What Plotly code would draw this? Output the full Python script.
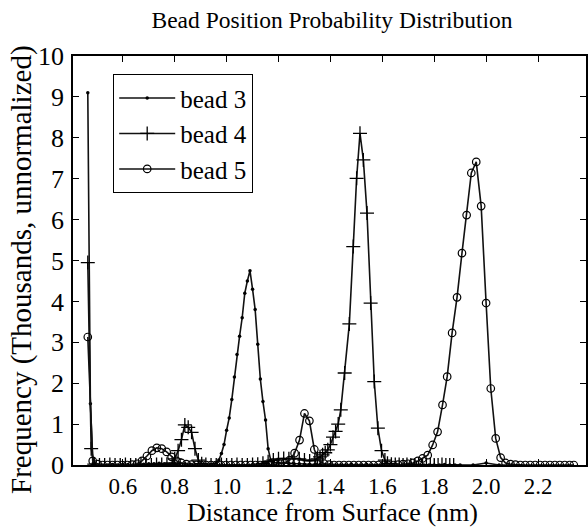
import plotly.graph_objects as go

# ---------------- data ----------------
x_tick_vals = [0.6, 0.8, 1.0, 1.2, 1.4, 1.6, 1.8, 2.0, 2.2]
x_tick_text = ["0.6", "0.8", "1.0", "1.2", "1.4", "1.6", "1.8", "2.0", "2.2"]
y_tick_vals = [0, 1, 2, 3, 4, 5, 6, 7, 8, 9, 10]

bead3_x = [0.465, 0.475, 0.485, 0.50, 0.52, 0.54, 0.56, 0.58, 0.60, 0.62, 0.64, 0.66, 0.68,
           0.70, 0.72, 0.74, 0.76, 0.78, 0.80, 0.82, 0.84, 0.86, 0.88, 0.90, 0.92, 0.94,
           0.95, 0.96, 0.97, 0.98, 0.99, 1.00, 1.01, 1.02, 1.03, 1.04, 1.05, 1.06, 1.07,
           1.08, 1.09, 1.10, 1.11, 1.12, 1.13, 1.14, 1.15, 1.16, 1.17, 1.18,
           1.20, 1.22, 1.24, 1.26, 1.28, 1.30, 1.32, 1.34, 1.36, 1.38, 1.40, 1.42, 1.44,
           1.46, 1.48, 1.50, 1.52, 1.54, 1.56, 1.58, 1.60, 1.62, 1.64, 1.66, 1.68, 1.70,
           1.72, 1.74, 1.76, 1.78, 1.80, 1.82, 1.84, 1.86, 1.88, 1.90, 1.95, 2.00, 2.05, 2.10]
bead3_y = [9.10, 1.50, 0.03, 0.01, 0.00, 0.00, 0.01, 0.00, 0.02, 0.01, 0.00, 0.01, 0.02,
           0.03, 0.03, 0.04, 0.03, 0.02, 0.03, 0.04, 0.03, 0.02, 0.01, 0.01, 0.01, 0.01,
           0.02, 0.05, 0.12, 0.28, 0.50, 0.85, 1.15, 1.60, 2.15, 2.70, 3.15, 3.60, 4.20,
           4.50, 4.75, 4.30, 3.80, 2.95, 2.10, 1.55, 1.10, 0.40, 0.12, 0.06,
           0.05, 0.04, 0.04, 0.03, 0.03, 0.02, 0.02, 0.01, 0.01, 0.01, 0.01, 0.00, 0.00,
           0.00, 0.01, 0.00, 0.00, 0.01, 0.00, 0.00, 0.00, 0.01, 0.00, 0.00, 0.00, 0.00,
           0.01, 0.00, 0.00, 0.00, 0.00, 0.00, 0.01, 0.00, 0.00, 0.00, 0.00, 0.05, 0.00, 0.00]

bead4_x = [0.465, 0.478, 0.49, 0.51, 0.53, 0.55, 0.57, 0.59, 0.61, 0.63, 0.65, 0.67, 0.69,
           0.71, 0.73, 0.75, 0.77,
           0.79, 0.80, 0.813, 0.826, 0.839, 0.852, 0.865, 0.878, 0.891, 0.904,
           0.92, 0.94, 0.96, 0.98, 1.00, 1.02, 1.04, 1.06, 1.08, 1.10, 1.12, 1.14, 1.16, 1.18,
           1.20, 1.22, 1.24, 1.26, 1.28, 1.30, 1.32, 1.34, 1.35, 1.36, 1.37, 1.38, 1.39,
           1.40, 1.41, 1.42, 1.43, 1.44,
           1.455, 1.473, 1.488, 1.501, 1.514, 1.527, 1.541, 1.555, 1.569, 1.583, 1.597,
           1.61, 1.62,
           1.635, 1.65, 1.665, 1.68, 1.695, 1.71, 1.725, 1.74, 1.755, 1.77, 1.785, 1.80,
           1.815, 1.83, 1.845, 1.86, 1.875]
bead4_y = [4.95, 0.40, 0.02, 0.00, 0.00, 0.01, 0.00, 0.00, 0.01, 0.00, 0.00, 0.01, 0.00,
           0.00, 0.01, 0.01, 0.02,
           0.05, 0.15, 0.35, 0.62, 0.98, 0.92, 0.80, 0.40, 0.12, 0.03,
           0.01, 0.00, 0.00, 0.01, 0.00, 0.00, 0.01, 0.00, 0.00, 0.01, 0.02, 0.04, 0.08, 0.12,
           0.15, 0.16, 0.15, 0.16, 0.15, 0.12, 0.10, 0.12, 0.15, 0.20, 0.25, 0.30, 0.37,
           0.50, 0.68, 0.82, 1.00, 1.35,
           2.25, 3.45, 5.34, 7.01, 8.11, 7.46, 6.16, 3.96, 2.04, 0.90, 0.35,
           0.12, 0.04,
           0.02, 0.01, 0.01, 0.00, 0.01, 0.00, 0.00, 0.01, 0.00, 0.00, 0.01, 0.00,
           0.00, 0.01, 0.00, 0.00, 0.00]

bead5_x = [0.465, 0.484, 0.503, 0.522, 0.541, 0.56, 0.579, 0.598, 0.617, 0.636,
           0.655, 0.674, 0.693, 0.712, 0.731, 0.75, 0.769, 0.788, 0.807, 0.826, 0.845,
           0.864, 0.883, 0.902, 0.921, 0.94, 0.959, 0.978, 0.997, 1.016, 1.035, 1.054,
           1.073, 1.092, 1.111, 1.13, 1.149, 1.168, 1.187, 1.206,
           1.224, 1.243, 1.262, 1.281, 1.30, 1.319, 1.338, 1.357, 1.376,
           1.395, 1.414, 1.433, 1.452, 1.471, 1.49, 1.509, 1.528, 1.547, 1.566, 1.585,
           1.604, 1.623, 1.642, 1.661, 1.68, 1.699,
           1.718, 1.737, 1.755, 1.775, 1.794, 1.813, 1.832, 1.85, 1.869, 1.888, 1.907,
           1.925, 1.943, 1.962, 1.981, 2.0, 2.018, 2.037, 2.056, 2.075, 2.094,
           2.113, 2.132, 2.151, 2.17, 2.189, 2.208, 2.227, 2.246, 2.265, 2.284, 2.303,
           2.322, 2.338]
bead5_y = [3.13, 0.10, 0.02, 0.00, 0.00, 0.00, 0.00, 0.00, 0.00, 0.01,
           0.03, 0.10, 0.22, 0.35, 0.42, 0.40, 0.32, 0.20, 0.10, 0.05, 0.02,
           0.01, 0.00, 0.00, 0.00, 0.00, 0.00, 0.00, 0.00, 0.00, 0.00, 0.00,
           0.00, 0.00, 0.00, 0.00, 0.01, 0.01, 0.02, 0.03,
           0.05, 0.12, 0.29, 0.61, 1.26, 1.08, 0.38, 0.10, 0.03,
           0.01, 0.00, 0.00, 0.00, 0.00, 0.00, 0.00, 0.00, 0.00, 0.00, 0.00,
           0.00, 0.00, 0.00, 0.01, 0.02, 0.03,
           0.05, 0.10, 0.16, 0.24, 0.49, 0.81, 1.47, 2.16, 3.23, 4.10, 5.18,
           6.11, 7.14, 7.41, 6.33, 3.96, 1.87, 0.65, 0.18, 0.05, 0.02,
           0.01, 0.00, 0.00, 0.00, 0.00, 0.00, 0.00, 0.00, 0.00, 0.00, 0.00,
           0.00, 0.00]

assert len(bead3_x) == len(bead3_y)
assert len(bead4_x) == len(bead4_y)
assert len(bead5_x) == len(bead5_y)

# ---------------- figure ----------------
FONT = "Liberation Serif, Times New Roman, serif"
W, H = 588, 527
ML, MR, MT, MB = 73, 2, 56, 62
PW, PH = W - ML - MR, H - MT - MB

fig = go.Figure()
fig.add_trace(go.Scatter(
    x=bead3_x, y=bead3_y, mode="lines+markers", name="bead 3",
    line=dict(color="#111", width=1.6),
    marker=dict(symbol="circle", size=3.5, color="black")))
fig.add_trace(go.Scatter(
    x=bead4_x, y=bead4_y, mode="lines+markers", name="bead 4",
    line=dict(color="#111", width=1.6),
    marker=dict(symbol="cross-thin", size=10, color="black",
                line=dict(color="black", width=1.3))))
fig.add_trace(go.Scatter(
    x=bead5_x, y=bead5_y, mode="lines+markers", name="bead 5",
    line=dict(color="#111", width=1.6),
    marker=dict(symbol="circle-open", size=7.5, color="black",
                line=dict(color="black", width=1.2))))

axis_common = dict(showline=True, linecolor="black", linewidth=1.5, mirror="ticks",
                   ticks="inside", ticklen=6, tickwidth=1.2, tickcolor="black",
                   showgrid=False, zeroline=False)

fig.update_layout(
    width=W, height=H,
    margin=dict(l=ML, r=MR, t=MT, b=MB, autoexpand=False),
    paper_bgcolor="white", plot_bgcolor="white",
    font=dict(family=FONT, color="black"),
    title=dict(text="Bead Position Probability Distribution",
               font=dict(family=FONT, size=23.5, color="black"),
               x=0.5 + (332 - (ML + PW / 2)) / PW, xanchor="center",
               y=1 - 20 / H, yanchor="middle", xref="paper", yref="container"),
    xaxis=dict(range=[0.408, 2.385], tickvals=x_tick_vals, ticktext=x_tick_text,
               ticklabelstandoff=0,
               tickfont=dict(family=FONT, size=23, color="black"), **axis_common),
    yaxis=dict(range=[0, 10], tickvals=y_tick_vals, ticklabelstandoff=2,
               tickfont=dict(family=FONT, size=26, color="black"), **axis_common),
    showlegend=True,
    legend=dict(x=(113 - ML) / PW, y=1 - (74 - MT) / PH, xanchor="left", yanchor="top",
                bgcolor="white", bordercolor="black", borderwidth=1.2,
                font=dict(family=FONT, size=25, color="black"),
                tracegroupgap=0, itemwidth=56),
    annotations=[
        dict(text="Distance from Surface (nm)", xref="paper", yref="paper",
             x=0.5 + (332 - (ML + PW / 2)) / PW, y=-(512 - (MT + PH)) / PH,
             xanchor="center", yanchor="middle", showarrow=False,
             font=dict(family=FONT, size=26, color="black")),
        dict(text="Frequency (Thousands, unnormalized)", xref="paper", yref="paper",
             x=-(ML - 21) / PW, y=1 - (270 - MT) / PH, textangle=-90,
             xanchor="center", yanchor="middle", showarrow=False,
             font=dict(family=FONT, size=29, color="black")),
    ],
)

fig.write_html("out.html", config={"displayModeBar": False},
               post_script="document.body.style.margin='0';document.body.style.overflow='hidden';")
